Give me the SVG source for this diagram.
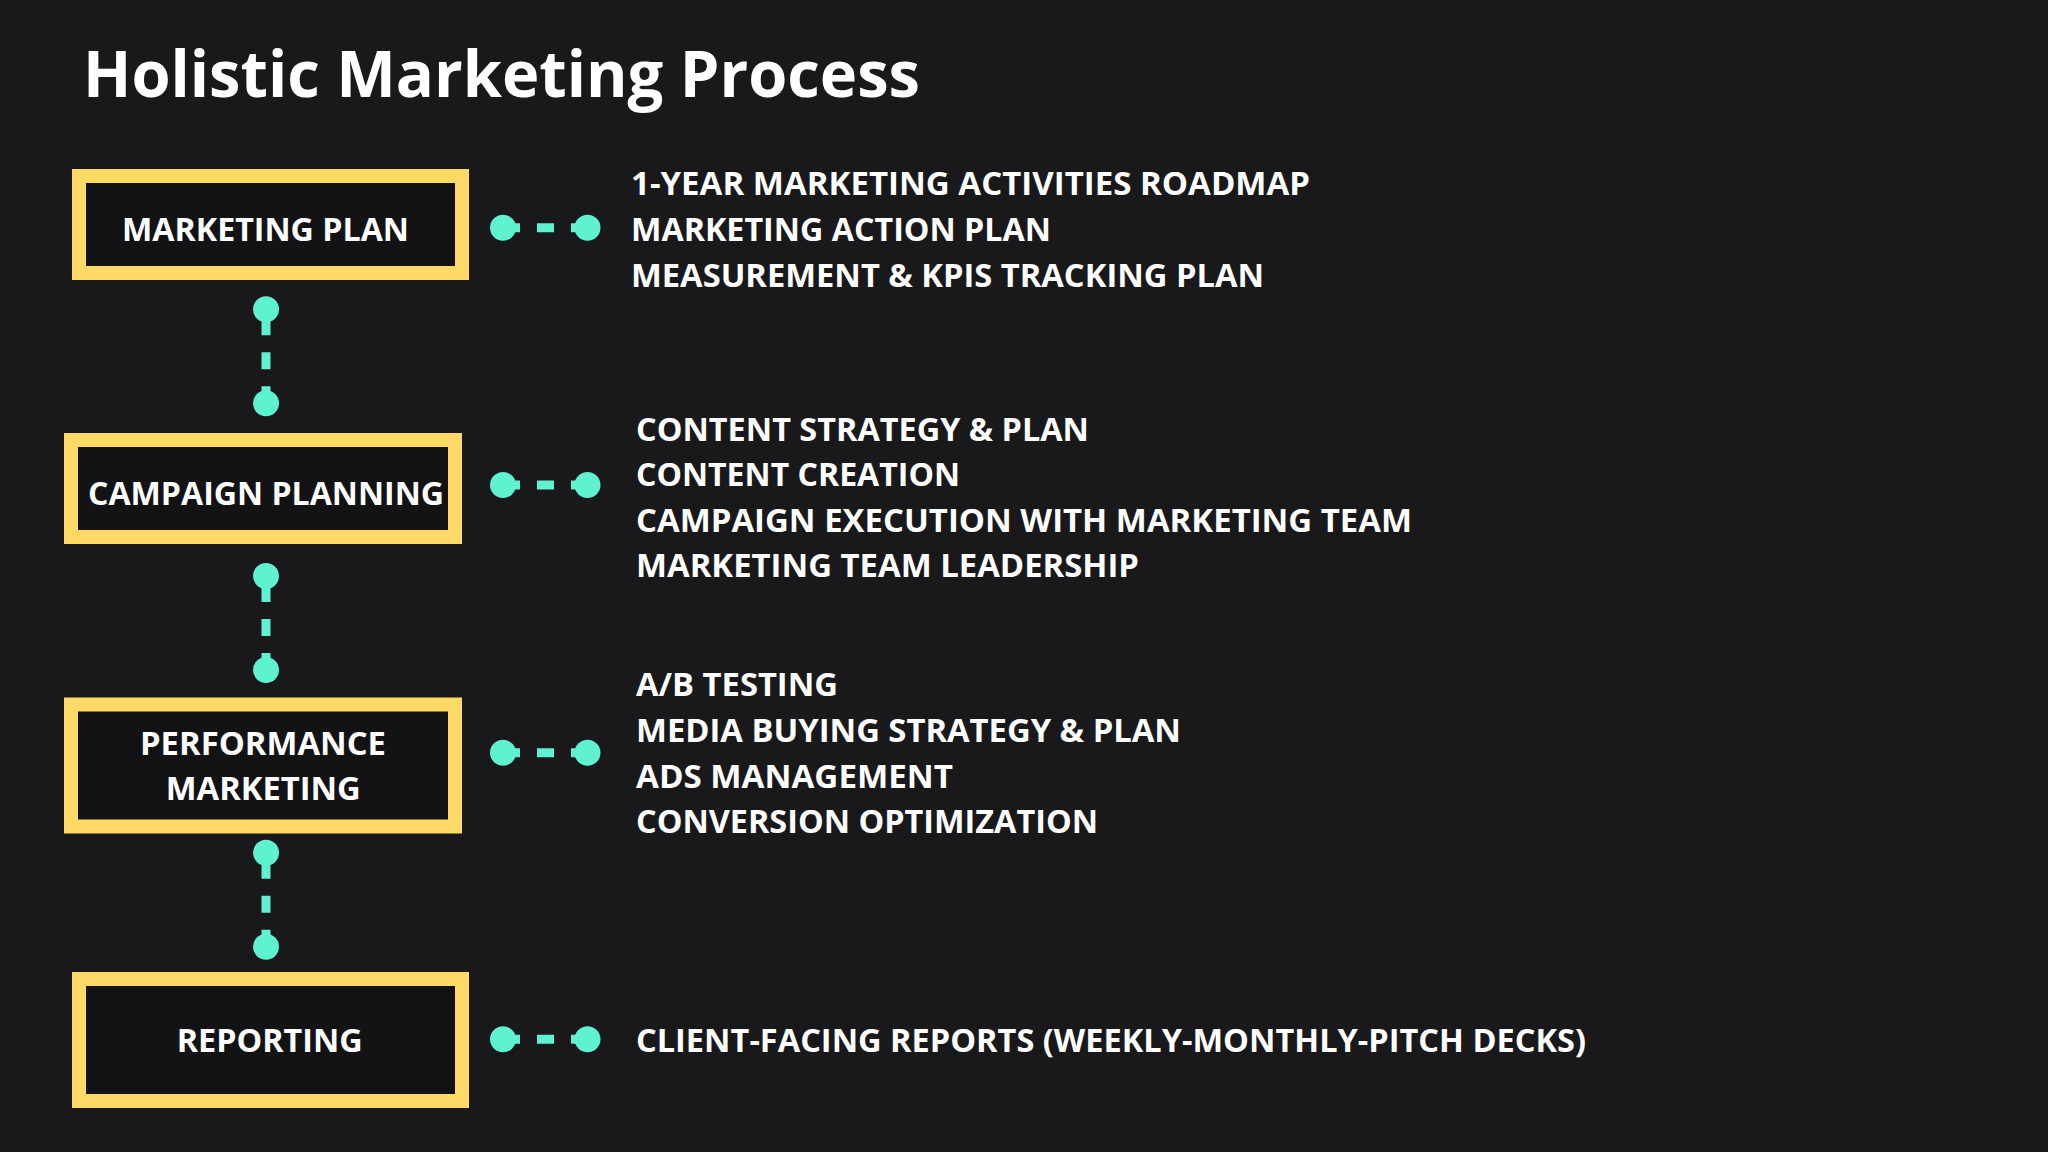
<svg xmlns="http://www.w3.org/2000/svg" width="2048" height="1152" viewBox="0 0 2048 1152">
  <style>
    .bg { fill: #19191b; }
    .box { fill: #131315; stroke: #FFD966; stroke-width: 14; }
    .lbl { font-family: "Open Sans", "Liberation Sans", sans-serif; font-weight: 700; font-size: 33px; fill: #ffffff; text-anchor: middle; }
    .item { font-family: "Open Sans", "Liberation Sans", sans-serif; font-weight: 700; font-size: 33px; fill: #ffffff; }
    .title { font-family: "Open Sans", "Liberation Sans", sans-serif; font-weight: 700; font-size: 64px; fill: #ffffff; }
    .dash { stroke: #5EF2D1; stroke-width: 9; stroke-dasharray: 17 17; fill: none; }
    .dot { fill: #5EF2D1; }
  </style>
  <rect class="bg" x="0" y="0" width="2048" height="1152"/>

  <text class="title" x="83" y="97" textLength="837" lengthAdjust="spacingAndGlyphs">Holistic Marketing Process</text>

  <g id="node-marketing-plan">
    <rect class="box" x="79" y="176" width="383" height="97"/>
    <text class="lbl" x="265.5" y="241" textLength="287" lengthAdjust="spacingAndGlyphs">MARKETING PLAN</text>
  </g>
  <g id="node-campaign-planning">
    <rect class="box" x="71" y="440" width="384" height="97"/>
    <text class="lbl" x="266" y="504.5" textLength="356" lengthAdjust="spacingAndGlyphs">CAMPAIGN PLANNING</text>
  </g>
  <g id="node-performance-marketing">
    <rect class="box" x="71" y="704.5" width="384" height="122"/>
    <text class="lbl" x="263" y="755" textLength="246" lengthAdjust="spacingAndGlyphs">PERFORMANCE</text>
    <text class="lbl" x="263.3" y="800" textLength="195" lengthAdjust="spacingAndGlyphs">MARKETING</text>
  </g>
  <g id="node-reporting">
    <rect class="box" x="79" y="979" width="383" height="122"/>
    <text class="lbl" x="269.7" y="1052.3" textLength="186" lengthAdjust="spacingAndGlyphs">REPORTING</text>
  </g>

  <g id="details-marketing-plan">
    <text class="item" x="631" y="195" textLength="679" lengthAdjust="spacingAndGlyphs">1-YEAR MARKETING ACTIVITIES ROADMAP</text>
    <text class="item" x="631" y="241" textLength="420" lengthAdjust="spacingAndGlyphs">MARKETING ACTION PLAN</text>
    <text class="item" x="631" y="287" textLength="633" lengthAdjust="spacingAndGlyphs">MEASUREMENT &amp; KPIS TRACKING PLAN</text>
  </g>
  <g id="details-campaign-planning">
    <text class="item" x="636" y="440.7" textLength="453" lengthAdjust="spacingAndGlyphs">CONTENT STRATEGY &amp; PLAN</text>
    <text class="item" x="636" y="486" textLength="324" lengthAdjust="spacingAndGlyphs">CONTENT CREATION</text>
    <text class="item" x="636" y="531.7" textLength="776" lengthAdjust="spacingAndGlyphs">CAMPAIGN EXECUTION WITH MARKETING TEAM</text>
    <text class="item" x="636" y="577" textLength="503" lengthAdjust="spacingAndGlyphs">MARKETING TEAM LEADERSHIP</text>
  </g>
  <g id="details-performance-marketing">
    <text class="item" x="636" y="696" textLength="202" lengthAdjust="spacingAndGlyphs">A/B TESTING</text>
    <text class="item" x="636" y="741.7" textLength="545" lengthAdjust="spacingAndGlyphs">MEDIA BUYING STRATEGY &amp; PLAN</text>
    <text class="item" x="636" y="787.5" textLength="317" lengthAdjust="spacingAndGlyphs">ADS MANAGEMENT</text>
    <text class="item" x="636" y="833" textLength="462" lengthAdjust="spacingAndGlyphs">CONVERSION OPTIMIZATION</text>
  </g>
  <g id="details-reporting">
    <text class="item" x="636" y="1051.5" textLength="950" lengthAdjust="spacingAndGlyphs">CLIENT-FACING REPORTS (WEEKLY-MONTHLY-PITCH DECKS)</text>
  </g>

  <g id="connectors">
    <line class="dash" x1="503" y1="227.7" x2="588" y2="227.7"/>
    <circle class="dot" cx="503" cy="227.7" r="13"/>
    <circle class="dot" cx="587.5" cy="227.7" r="13"/>

    <line class="dash" x1="503" y1="485" x2="588" y2="485"/>
    <circle class="dot" cx="503" cy="485" r="13"/>
    <circle class="dot" cx="587.5" cy="485" r="13"/>

    <line class="dash" x1="503" y1="752.7" x2="588" y2="752.7"/>
    <circle class="dot" cx="503" cy="752.7" r="13"/>
    <circle class="dot" cx="587.5" cy="752.7" r="13"/>

    <line class="dash" x1="503" y1="1039.3" x2="588" y2="1039.3"/>
    <circle class="dot" cx="503" cy="1039.3" r="13"/>
    <circle class="dot" cx="587.5" cy="1039.3" r="13"/>

    <line class="dash" x1="266" y1="403.3" x2="266" y2="309.3"/>
    <circle class="dot" cx="266" cy="309.3" r="13"/>
    <circle class="dot" cx="266" cy="403.3" r="13"/>

    <line class="dash" x1="266" y1="670" x2="266" y2="576"/>
    <circle class="dot" cx="266" cy="576" r="13"/>
    <circle class="dot" cx="266" cy="670" r="13"/>

    <line class="dash" x1="266" y1="946.7" x2="266" y2="852.7"/>
    <circle class="dot" cx="266" cy="852.7" r="13"/>
    <circle class="dot" cx="266" cy="946.7" r="13"/>
  </g>
</svg>
